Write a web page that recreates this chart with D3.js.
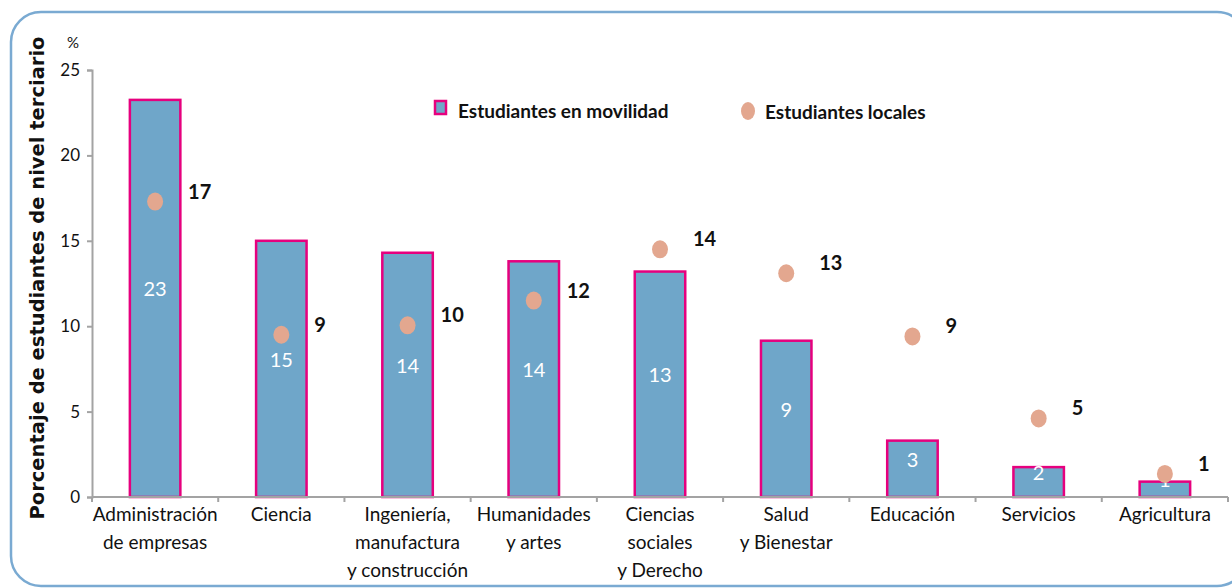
<!DOCTYPE html>
<html>
<head>
<meta charset="utf-8">
<script src="https://cdn.jsdelivr.net/npm/d3@7"></script>
<style>
  body { margin: 0; background: #fff; }
  svg text { font-family: Lato, "DejaVu Sans Condensed", sans-serif; }
</style>
</head>
<body>
<svg id="chart" width="1232" height="588"></svg>
<script>
// categories (multi-line labels) and the two series
let categories = [
    ["Administración", "de empresas"],
    ["Ciencia"],
    ["Ingeniería,", "manufactura", "y construcción"],
    ["Humanidades", "y artes"],
    ["Ciencias", "sociales", "y Derecho"],
    ["Salud", "y Bienestar"],
    ["Educación"],
    ["Servicios"],
    ["Agricultura"]
];
let movilidad = [23.25, 15.0, 14.3, 13.8, 13.2, 9.15, 3.3, 1.75, 0.9];
let movilidadLabels = ["23", "15", "14", "14", "13", "9", "3", "2", "1"];
let locales = [17.3, 9.5, 10.05, 11.5, 14.5, 13.1, 9.4, 4.6, 1.35];
let localesLabels = ["17", "9", "10", "12", "14", "13", "9", "5", "1"];
let yTicks = [0, 5, 10, 15, 20, 25];

let svg = d3.select('#chart');

// rounded frame
svg.append('rect')
    .attr('x', 11).attr('y', 12)
    .attr('width', 1236).attr('height', 574)
    .attr('rx', 30).attr('ry', 30)
    .attr('fill', 'none')
    .attr('stroke', '#7aaad2')
    .attr('stroke-width', 2.5);

let keys = categories.map((d, i) => 'c' + i);

let x = d3.scaleBand()
    .domain(keys)
    .range([92, 1228])
    .paddingInner(0.6)
    .paddingOuter(0.3);

let y = d3.scaleLinear()
    .domain([0, 25])
    .range([497, 70]);

// y axis
let yAxis = svg.append('g')
    .attr('transform', 'translate(92,0)')
    .call(d3.axisLeft(y).tickValues(yTicks).tickSize(5).tickPadding(7));
yAxis.select('.domain').attr('stroke', '#a3a3a3').attr('stroke-width', 2);
yAxis.selectAll('.tick line').attr('stroke', '#a3a3a3').attr('stroke-width', 2);
yAxis.selectAll('.tick text')
    .attr('fill', '#111')
    .style('font-family', 'Lato, sans-serif')
    .style('font-size', '17px');

svg.append('text')
    .attr('x', 73).attr('y', 48)
    .attr('text-anchor', 'middle')
    .style('font-size', '15px')
    .attr('fill', '#111')
    .text('%');

svg.append('text')
    .attr('transform', 'translate(44,278) rotate(-90)')
    .attr('text-anchor', 'middle')
    .style('font-family', '"DejaVu Sans", sans-serif')
    .style('font-size', '19.5px')
    .style('font-weight', 'bold')
    .attr('fill', '#111')
    .text('Porcentaje de estudiantes de nivel terciario');

// bars
let bars = svg.append('g').attr('class', 'bars');
bars.selectAll('rect')
    .data(movilidad)
    .enter().append('rect')
    .attr('x', (d, i) => x(keys[i]))
    .attr('y', d => y(d))
    .attr('width', x.bandwidth())
    .attr('height', d => y(0) - y(d))
    .attr('fill', '#6fa6c9')
    .attr('stroke', '#e6007e')
    .attr('stroke-width', 2.5);

bars.selectAll('text')
    .data(movilidad)
    .enter().append('text')
    .attr('x', (d, i) => x(keys[i]) + x.bandwidth() / 2)
    .attr('y', d => (y(d) + y(0)) / 2)
    .attr('dy', '-0.1em')
    .attr('text-anchor', 'middle')
    .attr('fill', '#fff')
    .style('font-size', '20px')
    .text((d, i) => movilidadLabels[i]);

// x axis (drawn after bars so it sits on top)
let step = x.step();
let xAxis = svg.append('g');
xAxis.append('line')
    .attr('x1', 92).attr('x2', 1228)
    .attr('y1', y(0)).attr('y2', y(0))
    .attr('stroke', '#a3a3a3').attr('stroke-width', 2);
xAxis.selectAll('line.tick')
    .data(d3.range(keys.length + 1))
    .enter().append('line')
    .attr('class', 'tick')
    .attr('x1', i => 92 + i * step).attr('x2', i => 92 + i * step)
    .attr('y1', y(0)).attr('y2', y(0) + 5)
    .attr('stroke', '#a3a3a3').attr('stroke-width', 2);

xAxis.selectAll('text')
    .data(categories)
    .enter().append('text')
    .attr('text-anchor', 'middle')
    .attr('fill', '#111')
    .style('font-size', '19px')
    .each(function(d, i) {
        let cx = x(keys[i]) + x.bandwidth() / 2;
        d3.select(this).selectAll('tspan')
            .data(d).enter()
            .append('tspan')
            .attr('x', cx)
            .attr('y', (t, j) => 521 + j * 28)
            .text(t => t);
    });

// local students dots
let dots = svg.append('g').attr('class', 'dots');
dots.selectAll('ellipse')
    .data(locales)
    .enter().append('ellipse')
    .attr('cx', (d, i) => x(keys[i]) + x.bandwidth() / 2)
    .attr('cy', d => y(d))
    .attr('rx', 8).attr('ry', 9)
    .attr('fill', '#e3a78f');

dots.selectAll('text')
    .data(locales)
    .enter().append('text')
    .attr('x', (d, i) => x(keys[i]) + x.bandwidth() / 2 + 33)
    .attr('y', d => y(d) - 3)
    .attr('fill', '#111')
    .style('font-size', '20px')
    .style('font-weight', 'bold')
    .text((d, i) => localesLabels[i]);

// legend
let legend = svg.append('g').attr('class', 'legend');
legend.append('rect')
    .attr('x', 435).attr('y', 101)
    .attr('width', 11).attr('height', 13)
    .attr('fill', '#6fa6c9')
    .attr('stroke', '#e6007e')
    .attr('stroke-width', 2.5);
legend.append('text')
    .attr('x', 458).attr('y', 118)
    .attr('fill', '#111')
    .style('font-size', '19px')
    .style('font-weight', 'bold')
    .text('Estudiantes en movilidad');
legend.append('ellipse')
    .attr('cx', 748).attr('cy', 111)
    .attr('rx', 7).attr('ry', 9)
    .attr('fill', '#e3a78f');
legend.append('text')
    .attr('x', 765).attr('y', 119)
    .attr('fill', '#111')
    .style('font-size', '19px')
    .style('font-weight', 'bold')
    .text('Estudiantes locales');
</script>
</body>
</html>
